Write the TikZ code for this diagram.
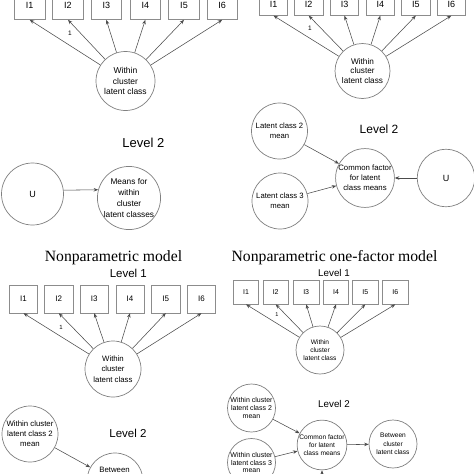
\documentclass[tikz,border=0pt]{standalone}
\usepackage{fontspec}
\setmainfont{Liberation Sans}
\newfontfamily\ttlfont{Liberation Serif}
\usetikzlibrary{arrows.meta}
\begin{document}
\begin{tikzpicture}[x=1pt,y=-1pt,
  lat/.style={circle,draw=black!50,line width=0.7pt,inner sep=0pt,align=center,fill=white},
  obs/.style={rectangle,draw=black!45,line width=0.7pt,inner sep=0pt,fill=white},
  arr/.style={draw=black!70,line width=0.55pt,-{Stealth[length=4.5pt,width=3.5pt]}},
  lvl/.style={inner sep=0pt},
  ttl/.style={inner sep=0pt,font=\ttlfont\fontsize{15.7}{18}\selectfont},
  one/.style={inner sep=0pt}
]
\useasboundingbox (0,0) rectangle (474,474);
\clip (0,0) rectangle (474,474);
\fill[white] (0,0) rectangle (474,474);

% ---------------- Panel A (top left) ----------------
\tikzset{obsA/.style={obs,minimum width=30.5pt,minimum height=29pt,font=\fontsize{9}{10}\selectfont}}
\node[obsA] (a1) at (29.7,5) {I1};
\node[obsA] (a2) at (68,5) {I2};
\node[obsA] (a3) at (106.3,5) {I3};
\node[obsA] (a4) at (145.3,5) {I4};
\node[obsA] (a5) at (184,5) {I5};
\node[obsA] (a6) at (222.2,5) {I6};
\node[lat,minimum size=59pt,font=\fontsize{8.5}{10.5}\selectfont] (aC) at (125.5,81) {Within\\cluster\\latent class};
\foreach \i in {1,...,6} {\draw[arr] (aC) -- (a\i.south);}
\node[one,font=\fontsize{6.5}{7}\selectfont] (a1l) at (70,33) {1};
\node[lvl,font=\fontsize{13}{15}\selectfont] (aL2) at (143.3,143.3) {Level 2};
\node[lat,minimum size=62pt,font=\fontsize{9}{10}\selectfont] (aU) at (32.5,194) {U};
\node[lat,minimum size=61pt,font=\fontsize{8.3}{10.7}\selectfont] (aM) at (129,198) {Means for\\within\\cluster\\latent classes};
\draw[arr] (aU.7) -- (aM.165);

% ---------------- Panel B (top right) ----------------
\tikzset{obsB/.style={obs,minimum width=28.5pt,minimum height=22pt,font=\fontsize{9}{10}\selectfont}}
\node[obsB] (b1) at (273.5,4.3) {I1};
\node[obsB] (b2) at (308.7,4.3) {I2};
\node[obsB] (b3) at (344.5,4.3) {I3};
\node[obsB] (b4) at (380.3,4.3) {I4};
\node[obsB] (b5) at (415.8,4.3) {I5};
\node[obsB] (b6) at (451.3,4.3) {I6};
\node[lat,minimum size=55pt,font=\fontsize{8.2}{9.5}\selectfont] (bC) at (362.5,71) {Within\\cluster\\latent class};
\foreach \i in {1,...,6} {\draw[arr] (bC) -- (b\i.south);}
\node[one,font=\fontsize{6.5}{7}\selectfont] (b1l) at (310,28) {1};
\node[lvl,font=\fontsize{12}{14}\selectfont] (bL2t) at (379,129.5) {Level 2};
\node[lat,minimum size=56pt,font=\fontsize{7.7}{10}\selectfont] (bL2) at (279.5,131) {Latent class 2\\mean};
\node[lat,minimum size=56pt,font=\fontsize{7.7}{10}\selectfont] (bL3) at (280,201) {Latent class 3\\mean};
\node[lat,minimum size=57pt,font=\fontsize{7.8}{9.8}\selectfont] (bF) at (365,178) {Common factor\\for latent\\class means};
\node[lat,minimum size=57.4pt,font=\fontsize{9}{10}\selectfont] (bU) at (446,178) {U};
\draw[arr] (bL2) -- (bF);
\draw[arr] (bL3) -- (bF);
\draw[arr] (bU) -- (bF);

% ---------------- Panel C (bottom left) ----------------
\node[ttl] (cT) at (113.5,258) {Nonparametric model};
\node[lvl,font=\fontsize{11.5}{13}\selectfont] (cL1) at (128.3,273.3) {Level 1};
\tikzset{obsC/.style={obs,minimum width=28.3pt,minimum height=27.7pt,font=\fontsize{8}{9}\selectfont}}
\node[obsC] (c1) at (23.5,299) {I1};
\node[obsC] (c2) at (58.8,299) {I2};
\node[obsC] (c3) at (94.2,299) {I3};
\node[obsC] (c4) at (130,299) {I4};
\node[obsC] (c5) at (165.8,299) {I5};
\node[obsC] (c6) at (201.5,299) {I6};
\node[lat,minimum size=56pt,font=\fontsize{7.8}{10.5}\selectfont] (cC) at (113,369) {Within\\cluster\\latent class};
\foreach \i in {1,...,6} {\draw[arr] (cC) -- (c\i.south);}
\node[one,font=\fontsize{6}{7}\selectfont] (c1l) at (61,327) {1};
\node[lvl,font=\fontsize{11.5}{13}\selectfont] (cL2) at (128,433) {Level 2};
\node[lat,minimum size=56pt,font=\fontsize{7.8}{10}\selectfont] (cW) at (30,434) {Within cluster\\latent class 2\\mean};
\node[lat,minimum size=56pt] (cB) at (115,481) {};
\node[inner sep=0pt,font=\fontsize{7.8}{10}\selectfont] (cBt) at (114.5,470) {Between};
\draw[arr] (cW) -- (cB);

% ---------------- Panel D (bottom right) ----------------
\node[ttl] (dT) at (334.5,258) {Nonparametric one-factor model};
\node[lvl,font=\fontsize{9.8}{11}\selectfont] (dL1) at (334,273) {Level 1};
\tikzset{obsD/.style={obs,minimum width=25.4pt,minimum height=24pt,font=\fontsize{7}{8}\selectfont}}
\node[obsD] (d1) at (246,292) {I1};
\node[obsD] (d2) at (275.7,292) {I2};
\node[obsD] (d3) at (306.2,292) {I3};
\node[obsD] (d4) at (336,292) {I4};
\node[obsD] (d5) at (365.3,292) {I5};
\node[obsD] (d6) at (395.3,292) {I6};
\node[lat,minimum size=48pt,font=\fontsize{6.6}{8}\selectfont] (dC) at (320,350) {Within\\cluster\\latent class};
\foreach \i in {1,...,6} {\draw[arr] (dC) -- (d\i.south);}
\node[one,font=\fontsize{5.5}{6}\selectfont] (d1l) at (277,315) {1};
\node[lvl,font=\fontsize{9.8}{11}\selectfont] (dL2) at (334,403.5) {Level 2};
\node[lat,minimum size=48pt,font=\fontsize{7}{8.3}\selectfont] (dW2) at (251.5,408) {Within cluster\\latent class 2\\mean};
\node[lat,minimum size=48pt,font=\fontsize{7}{7.8}\selectfont] (dW3) at (251.5,462.5) {Within cluster\\latent class 3\\mean};
\node[lat,minimum size=47pt,font=\fontsize{6.6}{8.3}\selectfont] (dF) at (322,445) {Common factor\\for latent\\class means};
\node[lat,minimum size=48pt,font=\fontsize{6.6}{8.3}\selectfont] (dB) at (393,444) {Between\\cluster\\latent class};
\coordinate (dIn) at (322,510);
\draw[arr] (dW2) -- (dF);
\draw[arr] (dW3) -- (dF);
\draw[arr] (dF) -- (dB);
\draw[arr] (dIn) -- (dF);
\end{tikzpicture}
\end{document}
